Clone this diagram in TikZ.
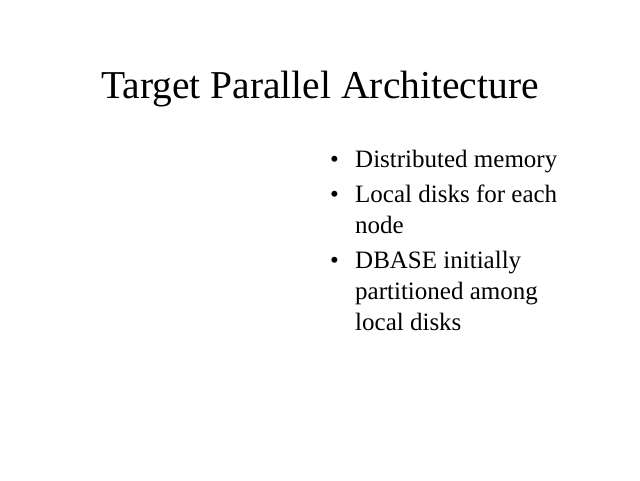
\documentclass[tikz,border=0pt]{standalone}
\usepackage{fontspec}
\setmainfont{Liberation Serif}
\usetikzlibrary{positioning}

\begin{document}
\begin{tikzpicture}[x=1pt,y=-1pt]
\useasboundingbox (0,0) rectangle (640,480);
\tikzset{title/.style={font=\fontsize{39.5}{47}\selectfont,inner sep=0pt,anchor=base},
  bullet/.style={font=\fontsize{25}{31}\selectfont,inner sep=0pt,anchor=base west,align=left},
  dot/.style={font=\fontsize{25}{31}\selectfont,inner sep=0pt,anchor=base west}}
\node[title] (ttl) at (320,98) {Target Parallel Architecture};
\node[dot] (d1) at (330,167) {\textbullet};
\node[bullet] (b1) at (355,167) {Distributed memory};
\node[dot] (d2) at (330,202) {\textbullet};
\node[bullet] (b2) at (355,233) {Local disks for each\\node};
\node[dot] (d3) at (330,268) {\textbullet};
\node[bullet] (b3) at (355,330) {DBASE initially\\partitioned among\\local disks};
\end{tikzpicture}
\end{document}
